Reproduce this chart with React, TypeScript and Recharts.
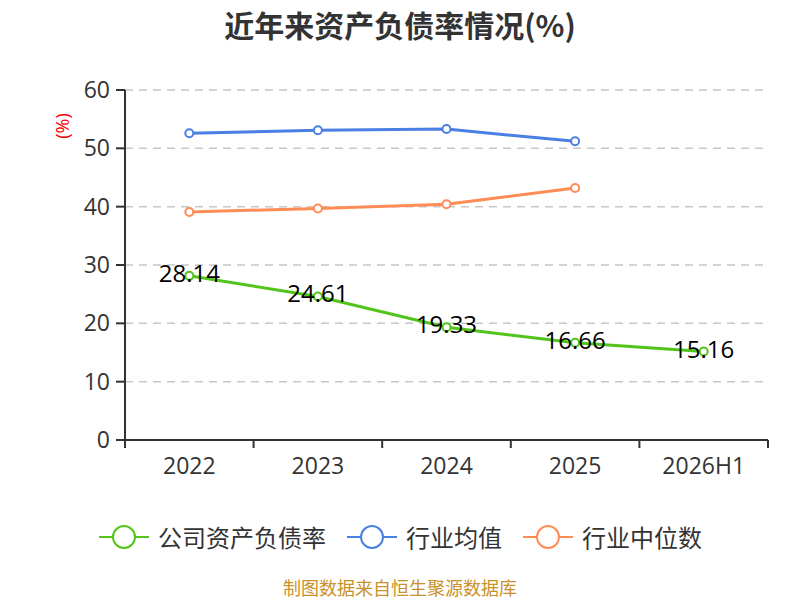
import React from "react";
import { LineChart, Line, XAxis, YAxis, CartesianGrid, LabelList } from "recharts";

const categories = ["2022", "2023", "2024", "2025", "2026H1"];
const companyRatio = [28.14, 24.61, 19.33, 16.66, 15.16];
const industryAvg: (number | null)[] = [52.6, 53.1, 53.3, 51.2, null];
const industryMedian: (number | null)[] = [39.1, 39.7, 40.4, 43.2, null];
const yTicks = [0, 10, 20, 30, 40, 50, 60];

const seriesNames = ["公司资产负债率", "行业均值", "行业中位数"];
const colors = ["#52c41a", "#4a7fe3", "#ff8c55"];

const data = categories.map((c, i) => ({
  name: c,
  company: companyRatio[i],
  avg: industryAvg[i],
  median: industryMedian[i],
}));

const font = "'Open Sans', 'Noto Sans', sans-serif";
const cjk = "'Noto Sans CJK SC', sans-serif";

const renderLabel = (props: any) => {
  const { x, y, value } = props;
  return (
    <text x={x} y={y} dy={6} textAnchor="middle" fontSize={24} fill="#000" fontFamily={font}>
      {value}
    </text>
  );
};

const XTick = (props: any) => {
  const { x, y, payload, index, visibleTicksCount } = props;
  const half = payload && payload.offset ? payload.offset : 64.3;
  const last = index === visibleTicksCount - 1;
  return (
    <g>
      <line x1={x - half} y1={y} x2={x - half} y2={y + 8} stroke="#333" strokeWidth={2} />
      {last ? <line x1={x + half} y1={y} x2={x + half} y2={y + 8} stroke="#333" strokeWidth={2} /> : null}
      <text x={x} y={y + 34} textAnchor="middle" fontSize={23} fill="#333" fontFamily={font}>
        {payload.value}
      </text>
    </g>
  );
};

const YLabel = (props: any) => {
  const vb = props.viewBox || { x: 0, y: 90 };
  const cx = vb.x + 62;
  const cy = vb.y + 36;
  return (
    <text x={cx} y={cy} transform={`rotate(-90 ${cx} ${cy})`} textAnchor="middle" dominantBaseline="central" fontSize={18} fill="red" fontFamily={font}>
      (%)
    </text>
  );
};

const LegendBlock = () => (
  <div style={{ position: "absolute", top: 521, left: 0, width: 800, display: "flex", justifyContent: "center", alignItems: "center", fontFamily: cjk, fontSize: 24, color: "#333", lineHeight: "32px" }}>
    {seriesNames.map((n, i) => (
      <div key={n} style={{ display: "flex", alignItems: "center", marginRight: i < 2 ? 20 : 0 }}>
        <svg width={52} height={28} style={{ marginRight: 8 }}>
          <line x1={1} y1={14} x2={51} y2={14} stroke={colors[i]} strokeWidth={2} />
          <circle cx={26} cy={14} r={11} fill="#fff" stroke={colors[i]} strokeWidth={2} />
        </svg>
        <span>{n}</span>
      </div>
    ))}
  </div>
);

export default function App() {
  return (
    <div style={{ position: "absolute", left: 0, top: 0, width: 800, height: 600, background: "#fff", overflow: "hidden" }}>
      <div style={{ position: "absolute", top: 2, width: 800, textAlign: "center", fontFamily: cjk, fontWeight: "bold", fontSize: 30, color: "#333" }}>
        近年来资产负债率情况(%)
      </div>
      <LegendBlock />
      <div style={{ position: "absolute", top: 577, width: 800, textAlign: "center", fontFamily: cjk, fontSize: 18, color: "#c8912a", lineHeight: "20px" }}>
        制图数据来自恒生聚源数据库
      </div>
      <div style={{ position: "absolute", left: 0, top: 0 }}>
        <LineChart width={800} height={600} data={data} margin={{ top: 90, right: 32, bottom: 0, left: 0 }}>
          <CartesianGrid vertical={false} stroke="#c8c8c8" strokeDasharray="8 6" strokeWidth={1.5} />
          <XAxis
            dataKey="name"
            scale="band"
            height={160}
            axisLine={{ stroke: "#333", strokeWidth: 2 }}
            tickLine={false}
            tickSize={0}
            tickMargin={0}
            tick={<XTick />}
            interval={0}
          />
          <YAxis
            width={125}
            domain={[0, 60]}
            ticks={yTicks}
            axisLine={{ stroke: "#333", strokeWidth: 2 }}
            tickLine={{ stroke: "#333", strokeWidth: 2 }}
            tickSize={9}
            tick={{ fontSize: 23, fill: "#333", fontFamily: font }}
            tickMargin={6}
            label={<YLabel />}
          />
          <Line dataKey="company" name={seriesNames[0]} stroke={colors[0]} strokeWidth={3} dot={{ r: 4, fill: "#fff", strokeWidth: 2, stroke: colors[0] }} isAnimationActive={false}>
            <LabelList dataKey="company" content={renderLabel} />
          </Line>
          <Line dataKey="avg" name={seriesNames[1]} stroke={colors[1]} strokeWidth={3} dot={{ r: 4, fill: "#fff", strokeWidth: 2, stroke: colors[1] }} isAnimationActive={false} />
          <Line dataKey="median" name={seriesNames[2]} stroke={colors[2]} strokeWidth={3} dot={{ r: 4, fill: "#fff", strokeWidth: 2, stroke: colors[2] }} isAnimationActive={false} />
        </LineChart>
      </div>
    </div>
  );
}
